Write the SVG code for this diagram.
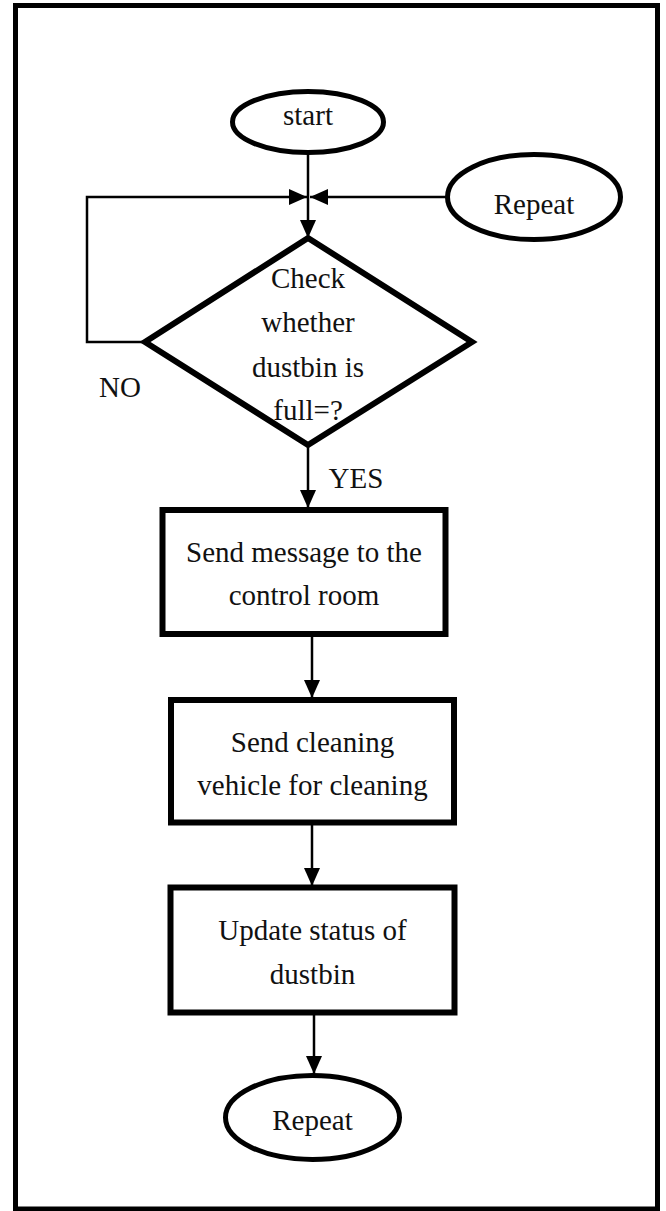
<svg xmlns="http://www.w3.org/2000/svg" width="666" height="1211" viewBox="0 0 666 1211">
<style>
.t{font-family:"Liberation Serif","Times New Roman",serif;font-size:29px;fill:#111;text-anchor:middle}
.n{fill:#fff;stroke:#000}
.c{fill:none;stroke:#000;stroke-width:2.5}
</style>
<defs>
<marker id="ah" markerUnits="userSpaceOnUse" markerWidth="20" markerHeight="20" viewBox="0 0 20 20" refX="19" refY="10" orient="auto">
<path d="M1,2 L19,10 L1,18 Z" fill="#000"/>
</marker>
</defs>
<rect x="15.5" y="5.5" width="642" height="1203.5" fill="#fff" stroke="#000" stroke-width="5"/>
<g id="connectors">
<line class="c" x1="308" y1="152" x2="308" y2="238" marker-end="url(#ah)"/>
<polyline class="c" points="145,342 87,342 87,197 307,197" marker-end="url(#ah)"/>
<line class="c" x1="446" y1="197" x2="310" y2="197" marker-end="url(#ah)"/>
<line class="c" x1="308" y1="446" x2="308" y2="508" marker-end="url(#ah)"/>
<line class="c" x1="312" y1="636" x2="312" y2="698" marker-end="url(#ah)"/>
<line class="c" x1="312" y1="824" x2="312" y2="886" marker-end="url(#ah)"/>
<line class="c" x1="314" y1="1014" x2="314" y2="1074" marker-end="url(#ah)"/>
</g>
<g id="start">
<ellipse class="n" cx="308" cy="122" rx="75.5" ry="30.5" stroke-width="5"/>
<text class="t" x="308" y="125">start</text>
</g>
<g id="repeat-top">
<ellipse class="n" cx="534" cy="197" rx="86.5" ry="42.5" stroke-width="5"/>
<text class="t" x="534" y="214">Repeat</text>
</g>
<g id="decision">
<polygon class="n" points="308,238 472,342 308,445 145,342" stroke-width="6" stroke-linejoin="miter"/>
<text class="t" x="308" y="288">Check</text>
<text class="t" x="308" y="332">whether</text>
<text class="t" x="308" y="377">dustbin is</text>
<text class="t" x="308" y="420">full=?</text>
</g>
<g id="labels">
<text class="t" x="120" y="397">NO</text>
<text class="t" x="356" y="488">YES</text>
</g>
<g id="send-message">
<rect class="n" x="162.5" y="510" width="283" height="124" stroke-width="6"/>
<text class="t" x="304" y="562">Send message to the</text>
<text class="t" x="304" y="605">control room</text>
</g>
<g id="send-vehicle">
<rect class="n" x="171" y="700" width="283" height="122.5" stroke-width="6"/>
<text class="t" x="312.5" y="752">Send cleaning</text>
<text class="t" x="312.5" y="795">vehicle for cleaning</text>
</g>
<g id="update-status">
<rect class="n" x="170.5" y="887.5" width="284" height="125" stroke-width="6"/>
<text class="t" x="312.5" y="940">Update status of</text>
<text class="t" x="312.5" y="984">dustbin</text>
</g>
<g id="repeat-bottom">
<ellipse class="n" cx="312.5" cy="1117.5" rx="87" ry="42" stroke-width="5"/>
<text class="t" x="312.5" y="1130">Repeat</text>
</g>
</svg>
